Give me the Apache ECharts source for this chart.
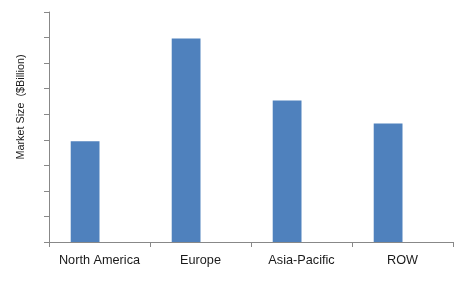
<!DOCTYPE html>
<html>
<head>
<meta charset="utf-8">
<script src="https://cdn.jsdelivr.net/npm/echarts@6/dist/echarts.min.js"></script>
<style>html,body{margin:0;padding:0;background:#fff;}#c{width:473px;height:286px;}</style>
</head>
<body>
<div id="c"></div>
<script>
var categories = ['North America', 'Europe', 'Asia-Pacific', 'ROW'];
var marketSize = [3.94, 7.96, 5.54, 4.64];
var hiddenSeries = [null, null, null, null];
var yName = 'Market Size  ($Billion)';

var chart = echarts.init(document.getElementById('c'), null, {renderer: 'canvas'});
chart.setOption({
  animation: false,
  backgroundColor: '#ffffff',
  grid: {left: 49, right: 20, top: 12, bottom: 44, containLabel: false},
  xAxis: {
    type: 'category',
    data: categories,
    axisLine: {lineStyle: {color: '#888888', width: 1}},
    axisTick: {show: true, length: 5, alignWithLabel: false, lineStyle: {color: '#888888'}},
    axisLabel: {interval: 0, color: '#1a1a1a', fontFamily: 'Liberation Sans, Arial', fontSize: 12.7, margin: 12}
  },
  yAxis: {
    type: 'value',
    min: 0, max: 9, interval: 1,
    name: yName,
    nameLocation: 'middle',
    nameGap: 22,
    nameTextStyle: {color: '#1a1a1a', fontFamily: 'Liberation Sans, Arial', fontSize: 10.8, padding: [0, 0, 0, 40]},
    axisLine: {show: true, lineStyle: {color: '#888888', width: 1}},
    axisTick: {show: true, length: 5, lineStyle: {color: '#888888'}},
    axisLabel: {show: false},
    splitLine: {show: false}
  },
  series: [{
    type: 'bar',
    data: marketSize,
    barWidth: '28.5%',
    barGap: '0%',
    itemStyle: {color: '#4f81bd'}
  }, {
    type: 'bar',
    data: hiddenSeries,
    barWidth: '28.5%',
    barGap: '0%',
    itemStyle: {color: '#c0504d'}
  }]
});
</script>
</body>
</html>
